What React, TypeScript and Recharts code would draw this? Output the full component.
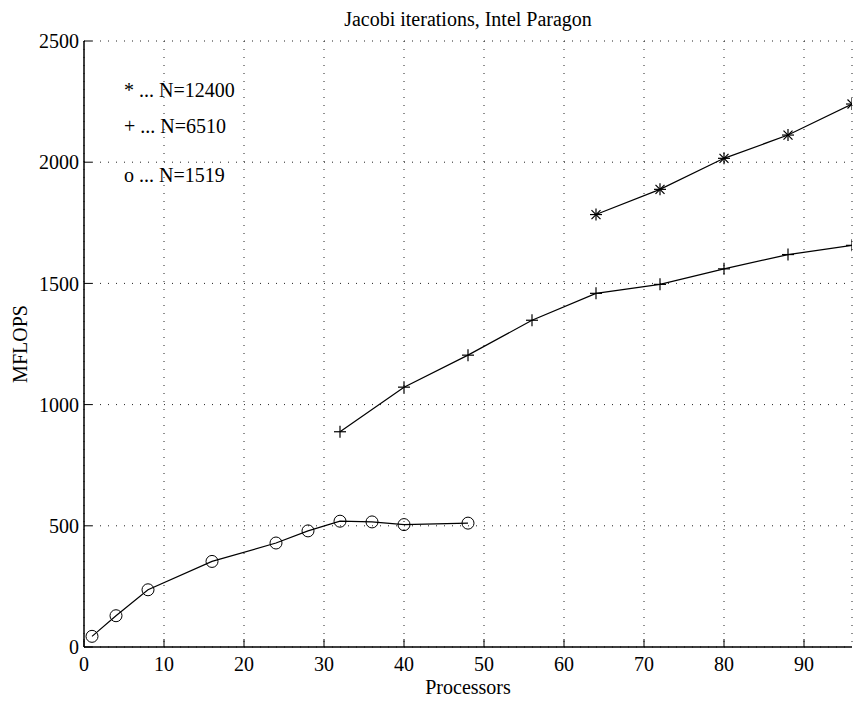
import React from "react";
import {
  LineChart,
  Line,
  XAxis,
  YAxis,
  CartesianGrid,
  Customized,
} from "recharts";

// processors / MFLOPS per problem size
const procs1519 = [1, 4, 8, 16, 24, 28, 32, 36, 40, 48];
const mflops1519 = [44, 129, 236, 353, 429, 479, 519, 516, 505, 511];

const procs6510 = [32, 40, 48, 56, 64, 72, 80, 88, 96];
const mflops6510 = [888, 1072, 1204, 1348, 1459, 1496, 1560, 1619, 1657];

const procs12400 = [64, 72, 80, 88, 96];
const mflops12400 = [1784, 1888, 2016, 2112, 2240];

const xTicks = [0, 10, 20, 30, 40, 50, 60, 70, 80, 90];
const yTicks = [0, 500, 1000, 1500, 2000, 2500];

const legendLines = ["* ... N=12400", "+ ... N=6510", "o ... N=1519"];

const toPoints = (xs: number[], ys: number[]) => xs.map((x, i) => ({ x, y: ys[i] }));

const data1519 = toPoints(procs1519, mflops1519);
const data6510 = toPoints(procs6510, mflops6510);
const data12400 = toPoints(procs12400, mflops12400);

const FONT = "'Liberation Serif', 'DejaVu Serif', serif";
const W = 854;
const H = 702;

const CircleDot = (p: any) => (
  <circle key={`o-${p.index}`} cx={p.cx} cy={p.cy} r={6} fill="none" stroke="#000" strokeWidth={1} />
);

const PlusDot = (p: any) => (
  <g key={`p-${p.index}`} stroke="#000" strokeWidth={1.2}>
    <line x1={p.cx - 6} y1={p.cy} x2={p.cx + 6} y2={p.cy} />
    <line x1={p.cx} y1={p.cy - 6} x2={p.cx} y2={p.cy + 6} />
  </g>
);

const StarDot = (p: any) => (
  <g key={`s-${p.index}`} stroke="#000" strokeWidth={1.2}>
    <line x1={p.cx - 6} y1={p.cy} x2={p.cx + 6} y2={p.cy} />
    <line x1={p.cx} y1={p.cy - 6} x2={p.cx} y2={p.cy + 6} />
    <line x1={p.cx - 4.5} y1={p.cy - 4.5} x2={p.cx + 4.5} y2={p.cy + 4.5} />
    <line x1={p.cx - 4.5} y1={p.cy + 4.5} x2={p.cx + 4.5} y2={p.cy - 4.5} />
  </g>
);

const Texts = () => (
  <g fontFamily={FONT} fontSize={20} fill="#000">
    <text x={468} y={26} textAnchor="middle">
      Jacobi iterations, Intel Paragon
    </text>
    <text x={468} y={694} textAnchor="middle">
      Processors
    </text>
    <text x={27} y={344} textAnchor="middle" transform="rotate(-90 27 344)">
      MFLOPS
    </text>
    <text x={124} y={97}>{legendLines[0]}</text>
    <text x={124} y={133}>{legendLines[1]}</text>
    <text x={124} y={182}>{legendLines[2]}</text>
  </g>
);

export default function App() {
  const tickStyle = { fill: "#000", fontSize: 20, fontFamily: FONT };
  return (
    <div style={{ position: "absolute", left: 0, top: 0, width: W, height: H, background: "#fff" }}>
      <LineChart
        width={W}
        height={H}
        margin={{ top: 41, right: 2, bottom: 15, left: 14 }}
        style={{ fontFamily: FONT }}
      >
        <CartesianGrid stroke="#222" strokeDasharray="1 7" />
        <XAxis
          type="number"
          dataKey="x"
          domain={[0, 96]}
          ticks={xTicks}
          allowDataOverflow
          height={40}
          tickSize={-8}
          tickMargin={18}
          tick={tickStyle}
          axisLine={{ stroke: "#000", strokeWidth: 1.5 }}
          tickLine={{ stroke: "#000" }}
        />
        <XAxis
          xAxisId="top"
          orientation="top"
          type="number"
          domain={[0, 96]}
          ticks={xTicks}
          height={0}
          tickSize={-8}
          tick={false}
          axisLine={{ stroke: "#000", strokeWidth: 1.5 }}
          tickLine={{ stroke: "#000" }}
        />
        <YAxis
          type="number"
          domain={[0, 2500]}
          ticks={yTicks}
          width={70}
          tickSize={-8}
          tickMargin={13}
          tick={tickStyle}
          axisLine={{ stroke: "#000", strokeWidth: 1.5 }}
          tickLine={{ stroke: "#000" }}
        />
        <YAxis
          yAxisId="right"
          orientation="right"
          type="number"
          domain={[0, 2500]}
          ticks={yTicks}
          width={0}
          tickSize={-8}
          tick={false}
          axisLine={{ stroke: "#000", strokeWidth: 1.5 }}
          tickLine={{ stroke: "#000" }}
        />
        <Line
          data={data1519}
          dataKey="y"
          stroke="#000"
          strokeWidth={1.2}
          dot={CircleDot}
          isAnimationActive={false}
        />
        <Line
          data={data6510}
          dataKey="y"
          stroke="#000"
          strokeWidth={1.2}
          dot={PlusDot}
          isAnimationActive={false}
        />
        <Line
          data={data12400}
          dataKey="y"
          stroke="#000"
          strokeWidth={1.2}
          dot={StarDot}
          isAnimationActive={false}
        />
        <Customized component={Texts} />
      </LineChart>
    </div>
  );
}
